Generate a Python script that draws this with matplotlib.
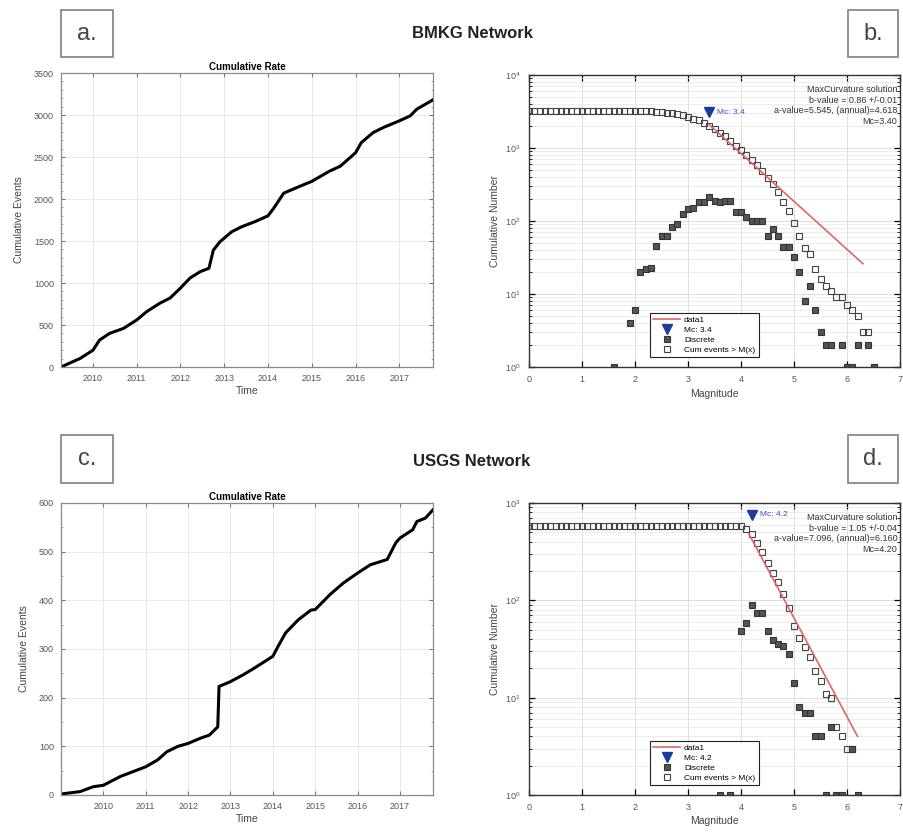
import numpy as np
import matplotlib
matplotlib.use('Agg')
import matplotlib.pyplot as plt
from matplotlib.patches import Rectangle
from matplotlib.ticker import MultipleLocator, LogLocator, NullFormatter

plt.rcParams['font.family'] = ['Liberation Sans', 'DejaVu Sans']

# a. BMKG cumulative rate (decimal year, cumulative events)
bmkg_year = [2009.27, 2009.7, 2010.0, 2010.15, 2010.38, 2010.7, 2011.0, 2011.23, 2011.53,
             2011.76, 2012.0, 2012.22, 2012.45, 2012.65, 2012.75, 2012.9, 2013.17, 2013.4,
             2013.7, 2014.0, 2014.13, 2014.36, 2014.72, 2015.0, 2015.4, 2015.65, 2016.0,
             2016.13, 2016.4, 2016.63, 2017.0, 2017.25, 2017.4, 2017.77]
bmkg_cum = [0, 100, 200, 320, 400, 460, 560, 660, 760, 820, 940, 1060, 1135, 1175, 1390,
            1490, 1610, 1670, 1730, 1800, 1890, 2070, 2150, 2210, 2330, 2390, 2550, 2670,
            2790, 2850, 2930, 2990, 3070, 3180]

# c. USGS cumulative rate
usgs_year = [2009.0, 2009.45, 2009.76, 2010.0, 2010.4, 2010.7, 2011.0, 2011.28, 2011.5,
             2011.76, 2012.0, 2012.3, 2012.5, 2012.7, 2012.73, 2013.0, 2013.3, 2013.55,
             2014.0, 2014.12, 2014.3, 2014.6, 2014.9, 2015.0, 2015.35, 2015.67, 2016.0,
             2016.3, 2016.7, 2016.9, 2017.0, 2017.3, 2017.4, 2017.6, 2017.78]
usgs_cum = [2, 7, 17, 20, 38, 48, 58, 72, 89, 100, 106, 117, 123, 140, 223, 233, 247, 260,
            285, 305, 333, 360, 380, 381, 412, 436, 456, 473, 484, 518, 528, 545, 562, 569, 586]

# b. BMKG frequency-magnitude (discrete counts per 0.1 bin)
bmkg_mag = [1.6, 1.9, 2.0, 2.1, 2.2, 2.3, 2.4, 2.5, 2.6, 2.7, 2.8, 2.9, 3.0, 3.1, 3.2, 3.3,
            3.4, 3.5, 3.6, 3.7, 3.8, 3.9, 4.0, 4.1, 4.2, 4.3, 4.4, 4.5, 4.6, 4.7, 4.8, 4.9,
            5.0, 5.1, 5.2, 5.3, 5.4, 5.5, 5.6, 5.7, 5.9, 6.0, 6.1, 6.2, 6.4, 6.5]
bmkg_disc = [1, 4, 6, 20, 22, 23, 46, 63, 62, 83, 92, 125, 148, 150, 180, 180, 213, 190, 180,
             190, 185, 133, 133, 113, 100, 100, 100, 62, 78, 63, 44, 44, 32, 20, 8, 13, 6, 3,
             2, 2, 2, 1, 1, 2, 2, 1]
bmkg_bins_max = 6.5
bmkg_fit_m = [3.4, 6.3]
bmkg_fit_n = [2090, 26]
bmkg_mc = 3.4
bmkg_mc_n = 3100
bmkg_info = ['MaxCurvature solution', 'b-value = 0.86 +/-0.01',
             'a-value=5.545, (annual)=4.618', 'Mc=3.40']

# d. USGS frequency-magnitude
usgs_mag = [3.6, 3.8, 4.0, 4.1, 4.2, 4.3, 4.4, 4.5, 4.6, 4.7, 4.8, 4.9, 5.0, 5.1, 5.2, 5.3,
            5.4, 5.5, 5.6, 5.7, 5.8, 5.9, 6.1, 6.2]
usgs_disc = [1, 1, 48, 58, 89, 74, 74, 48, 39, 36, 34, 28, 14, 8, 7, 7, 4, 4, 1, 5, 1, 1, 3, 1]
usgs_bins_max = 6.1
usgs_fit_m = [4.15, 6.2]
usgs_fit_n = [480, 4]
usgs_mc = 4.2
usgs_mc_n = 760
usgs_info = ['MaxCurvature solution', 'b-value = 1.05 +/-0.04',
             'a-value=7.096, (annual)=6.160', 'Mc=4.20']

W, H = 904, 835
fig = plt.figure(figsize=(W / 100, H / 100), dpi=100)


def px_axes(l, t, r, b):
    return fig.add_axes([l / W, 1 - b / H, (r - l) / W, (b - t) / H])


def panel_label(x0, y0, x1, y1, s):
    fig.patches.append(Rectangle((x0 / W, 1 - y1 / H), (x1 - x0) / W, (y1 - y0) / H,
                                 transform=fig.transFigure, fill=False, ec='#8a8a8a', lw=1.3))
    fig.text((x0 + x1) / 2 / W, 1 - (y0 + y1) / 2 / H, s, ha='center', va='center',
             fontsize=17, color='#444444')


def time_panel(ax, years, cum, xlim, ymax, ystep, yminor):
    ax.plot(years, cum, color='black', lw=2.2)
    ax.set_xlim(xlim)
    ax.set_ylim(0, ymax)
    ax.set_xticks(range(2010, 2018))
    ax.yaxis.set_major_locator(MultipleLocator(ystep))
    ax.yaxis.set_minor_locator(MultipleLocator(yminor))
    ax.grid(True, which='major', color='#e4e4e4', lw=0.6)
    ax.tick_params(direction='in', top=True, right=True, labelsize=6.5, labelcolor='#555555',
                   color='#777777', length=3, pad=5)
    ax.tick_params(which='minor', direction='in', right=True, length=1.5, color='#999999')
    for s in ax.spines.values():
        s.set_color('#8a8a8a')
        s.set_linewidth(0.9)
    ax.set_title('Cumulative Rate', fontsize=7, fontweight='bold', pad=2)
    ax.set_xlabel('Time', fontsize=7.5, labelpad=2, color='#444444')
    ax.set_ylabel('Cumulative Events', fontsize=7.5, labelpad=7, color='#444444')


def fmd_panel(ax, mags, disc, bmax, fit_m, fit_n, mc, mc_n, info, ymax):
    # cumulative events >= M on a 0.1 magnitude grid
    grid = np.round(np.arange(0, bmax + 0.05, 0.1), 1)
    counts = dict(zip(np.round(mags, 1), disc))
    per_bin = np.array([counts.get(g, 0) for g in grid])
    cum = per_bin[::-1].cumsum()[::-1]

    h_cum, = ax.plot(grid, cum, 's', ms=4.4, mfc='none', mec='#444444', mew=0.8, ls='none')
    h_dis, = ax.plot(mags, disc, 's', ms=4.4, mfc='#555555', mec='#333333', mew=0.8, ls='none')
    h_fit, = ax.plot(fit_m, fit_n, color='#e06565', lw=1.2)
    h_mc, = ax.plot([mc], [mc_n], 'v', ms=6.5, color='#1c3b9c', ls='none')
    ax.text(mc + 0.15, mc_n, 'Mc: %.1f' % mc, color='#3050c8', fontsize=6, va='center', ha='left')
    # info block, one right-aligned line at a time
    for i, line in enumerate(info):
        ax.text(0.993, 0.965 - i * 0.036, line, transform=ax.transAxes, ha='right', va='top',
                fontsize=6.5, color='#333333')

    ax.set_yscale('log')
    ax.set_xlim(0, 7)
    ax.set_ylim(1, ymax)
    ax.xaxis.set_major_locator(MultipleLocator(1))
    ax.yaxis.set_major_locator(LogLocator(10, numticks=10))
    ax.yaxis.set_minor_locator(LogLocator(10, subs=np.arange(2, 10), numticks=10))
    ax.yaxis.set_minor_formatter(NullFormatter())
    ax.grid(True, which='major', color='#d8d8d8', lw=0.6)
    ax.grid(True, which='minor', axis='y', color='#e6e6e6', lw=0.5)
    ax.tick_params(direction='in', top=True, right=True, labelsize=6.5, labelcolor='#555555',
                   length=4, width=0.9, pad=6)
    ax.tick_params(which='minor', direction='in', right=True, length=2)
    for s in ax.spines.values():
        s.set_color('#333333')
        s.set_linewidth(1.0)
    ax.set_xlabel('Magnitude', fontsize=7.5, labelpad=3, color='#444444')
    ax.set_ylabel('Cumulative Number', fontsize=7.5, labelpad=4, color='#444444')
    leg = ax.legend([h_fit, h_mc, h_dis, h_cum],
                    ['data1', 'Mc: %.1f' % mc, 'Discrete', 'Cum events > M(x)'],
                    loc='lower left', bbox_to_anchor=(0.326, 0.034), fontsize=6, frameon=True,
                    fancybox=False, framealpha=1, edgecolor='#222222', handlelength=3.2,
                    borderpad=0.4, labelspacing=0.25, handletextpad=0.5, borderaxespad=0)
    leg.get_frame().set_linewidth(0.8)


ax_a = px_axes(61, 73, 433, 367)
time_panel(ax_a, bmkg_year, bmkg_cum, (2009.27, 2017.77), 3500, 500, 100)

ax_b = px_axes(529, 75, 900, 367)
fmd_panel(ax_b, bmkg_mag, bmkg_disc, bmkg_bins_max, bmkg_fit_m, bmkg_fit_n,
          bmkg_mc, bmkg_mc_n, bmkg_info, 1e4)

ax_c = px_axes(61, 503, 433, 795)
time_panel(ax_c, usgs_year, usgs_cum, (2009.0, 2017.78), 600, 100, 50)

ax_d = px_axes(529, 503, 900, 795)
fmd_panel(ax_d, usgs_mag, usgs_disc, usgs_bins_max, usgs_fit_m, usgs_fit_n,
          usgs_mc, usgs_mc_n, usgs_info, 1e3)

panel_label(61, 10, 113, 57, 'a.')
panel_label(848, 10, 898, 57, 'b.')
panel_label(61, 435, 113, 483, 'c.')
panel_label(848, 435, 898, 483, 'd.')

fig.text(472 / W, 1 - 33 / H, 'BMKG Network', ha='center', va='center', fontsize=12,
         fontweight='bold', color='#222222')
fig.text(472 / W, 1 - 462 / H, 'USGS Network', ha='center', va='center', fontsize=12,
         fontweight='bold', color='#222222')

fig.savefig('out.png', dpi=100)
